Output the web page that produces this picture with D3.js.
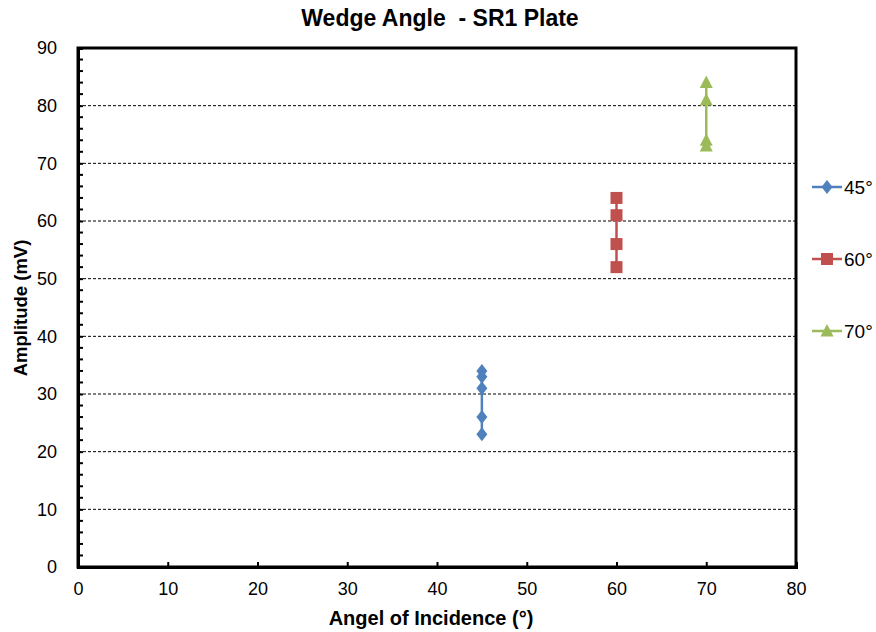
<!DOCTYPE html>
<html><head><meta charset="utf-8">
<script src="https://cdn.jsdelivr.net/npm/d3@7"></script>
<style>body{margin:0;background:#fff;}svg{display:block;font-family:"Liberation Sans",Arial,sans-serif;}</style>
</head><body><svg id="c" width="876" height="632"></svg>
<script>
const seriesNames = ["45°", "60°", "70°"];
const seriesX = [45, 60, 70];
const values45 = [34, 33, 31, 26, 23];
const values60 = [64, 61, 56, 52];
const values70 = [84, 81, 74, 73];
const colors = ["#4F81BD", "#C0504D", "#9BBB59"];
const xTicks = [0,10,20,30,40,50,60,70,80];
const yTicks = [0,10,20,30,40,50,60,70,80,90];
const title = "Wedge Angle  - SR1 Plate";
const xTitle = "Angel of Incidence (°)";
const yTitle = "Amplitude (mV)";

const allValues = [values45, values60, values70];
const svg = d3.select("#c");
const L = 78, R = 796, T = 48, B = 567;
const x = d3.scaleLinear().domain([0,80]).range([L,R]);
const y = d3.scaleLinear().domain([0,90]).range([B,T]);

const markerPaths = [
  "M0,-7L5.5,0L0,7L-5.5,0Z",
  "M-6,-6H6V6H-6Z",
  "M0,-7L6.5,5.5H-6.5Z"
];

// gridlines
svg.append("g").selectAll("line").data(yTicks.filter(d=>d>0&&d<90)).join("line")
  .attr("x1",L).attr("x2",R).attr("y1",d=>y(d)).attr("y2",d=>y(d))
  .attr("stroke","#000").attr("stroke-width",1).attr("stroke-dasharray","3,2");

// frame
svg.append("rect").attr("x",L).attr("y",T).attr("width",R-L).attr("height",B-T)
  .attr("fill","none").attr("stroke","#000").attr("stroke-width",3);

// y axis
const yAxis = d3.axisLeft(y).tickValues(yTicks).tickSize(-5).tickPadding(21);
const gy = svg.append("g").attr("transform",`translate(${L},0)`).call(yAxis);
gy.selectAll("text").attr("font-size",18).attr("fill","#000").attr("font-family","Liberation Sans, Arial, sans-serif");
gy.select(".domain").attr("stroke-width",3);
gy.selectAll(".tick line").attr("stroke-width",2);
// minor y ticks
svg.append("g").selectAll("line").data(d3.range(0,91,2).filter(d=>d%10!==0)).join("line")
  .attr("x1",L).attr("x2",L+5).attr("y1",d=>y(d)).attr("y2",d=>y(d))
  .attr("stroke","#000").attr("stroke-width",2);

// x axis
const xAxis = d3.axisBottom(x).tickValues(xTicks).tickSize(-5).tickPadding(15);
const gx = svg.append("g").attr("transform",`translate(0,${B})`).call(xAxis);
gx.selectAll("text").attr("font-size",18).attr("fill","#000").attr("font-family","Liberation Sans, Arial, sans-serif");
gx.select(".domain").attr("stroke-width",3);
gx.selectAll(".tick line").attr("stroke-width",2);

// series
allValues.forEach((vals,i)=>{
  const g = svg.append("g");
  const ext = d3.extent(vals);
  g.append("line").attr("x1",x(seriesX[i])).attr("x2",x(seriesX[i]))
    .attr("y1",y(ext[0])).attr("y2",y(ext[1])).attr("stroke",colors[i]).attr("stroke-width",2.5);
  g.selectAll("path").data(vals).join("path")
    .attr("d",markerPaths[i])
    .attr("transform",d=>`translate(${x(seriesX[i])},${y(d)})`)
    .attr("fill",colors[i]);
});

// legend
const ly = [187, 259, 331];
seriesNames.forEach((n,i)=>{
  const g = svg.append("g").attr("transform",`translate(812,${ly[i]})`);
  g.append("line").attr("x1",0).attr("x2",30).attr("stroke",colors[i]).attr("stroke-width",2.5);
  g.append("path").attr("d",markerPaths[i]).attr("transform","translate(15,0)").attr("fill",colors[i]);
  g.append("text").attr("x",32).attr("y",7).attr("font-size",19).text(n);
});

// titles
svg.append("text").attr("x",440).attr("y",26).attr("text-anchor","middle")
  .attr("font-size",23).attr("font-weight","bold").style("white-space","pre").text(title);
svg.append("text").attr("x",431).attr("y",625).attr("text-anchor","middle")
  .attr("font-size",20).attr("font-weight","bold").text(xTitle);
svg.append("text").attr("transform",`translate(27,${308}) rotate(-90)`).attr("text-anchor","middle")
  .attr("font-size",18.5).attr("font-weight","bold").text(yTitle);
</script></body></html>
